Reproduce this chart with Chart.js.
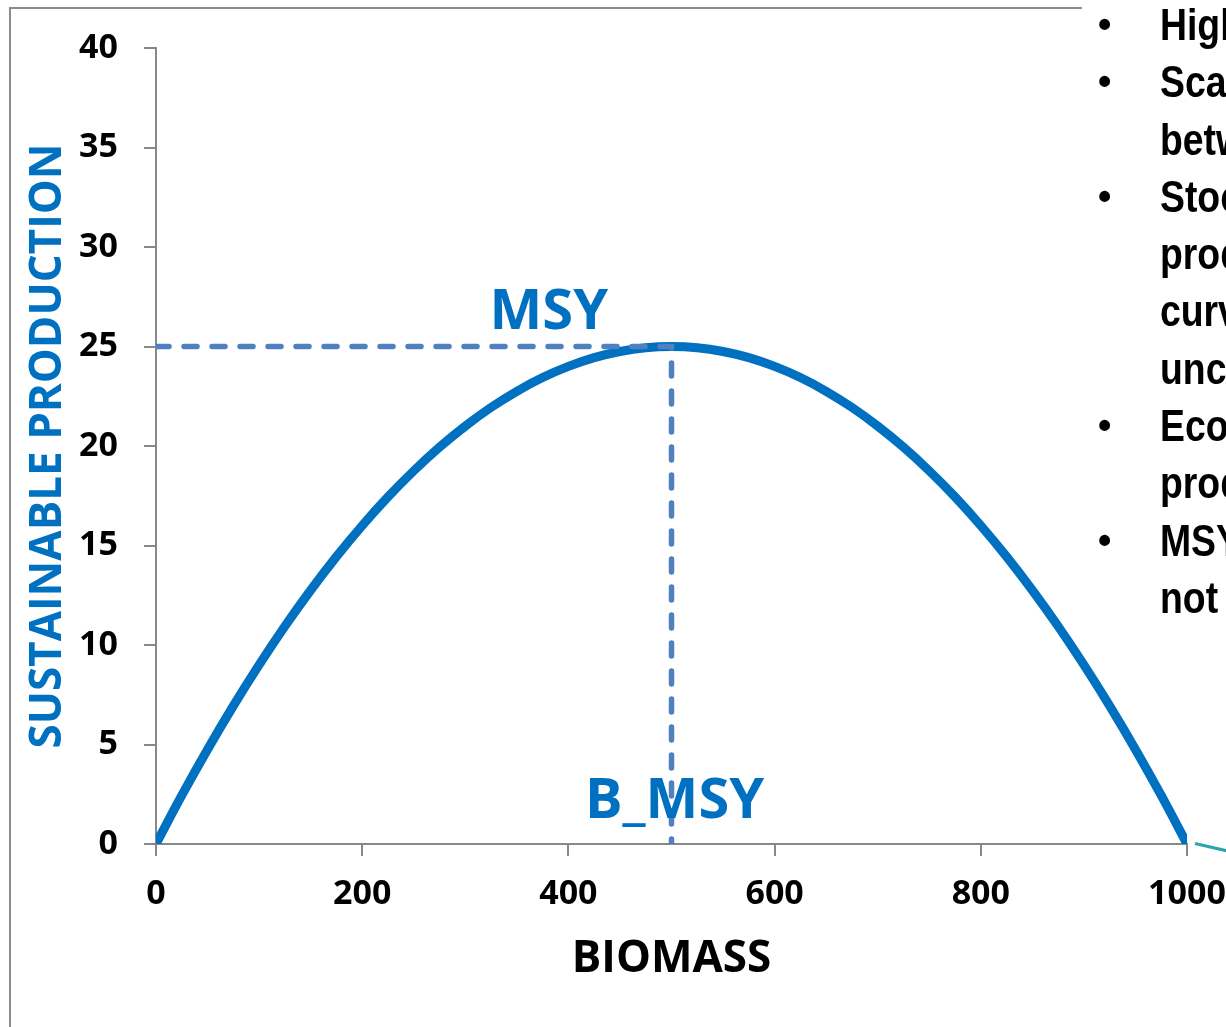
<!DOCTYPE html>
<html>
<head>
<meta charset="utf-8">
<script src="https://cdn.jsdelivr.net/npm/chart.js@4"></script>
<style>
  html, body { margin: 0; padding: 0; background: #fff; }
  body { width: 1226px; height: 1027px; position: relative; overflow: hidden; }
  #chart { position: absolute; left: 0; top: 0; }
  #frame {
    position: absolute; left: 9px; top: 7px; width: 1071px; height: 1100px;
    border-top: 2px solid #8c8c8c; border-left: 2px solid #8c8c8c;
    pointer-events: none;
  }
  #notes {
    position: absolute; left: 1090px; top: -4px; width: 600px;
    font-family: "Liberation Sans", Arial, sans-serif; font-weight: bold;
    font-size: 45px; line-height: 57.3px; color: #000; white-space: nowrap;
  }
  #notes div { position: relative; height: 57.3px; }
  #notes span.b { position: absolute; left: 8px; font-size: 38px; top: 0; }
  #notes span.t { position: absolute; left: 70px; transform: scaleX(0.83); transform-origin: 0 50%; }
  #connector {
    position: absolute; left: 1195px; top: 842px; width: 45px; height: 3px;
    background: #2aa5ad; transform: rotate(13deg); transform-origin: 0 50%;
  }
</style>
</head>
<body>
<canvas id="chart" width="1226" height="1027"></canvas>
<div id="frame"></div>
<div id="notes"></div>
<div id="connector"></div>
<script>
const biomass = [0, 25, 50, 75, 100, 125, 150, 175, 200, 225, 250, 275, 300, 325, 350, 375,
                 400, 425, 450, 475, 500, 525, 550, 575, 600, 625, 650, 675, 700, 725,
                 750, 775, 800, 825, 850, 875, 900, 925, 950, 975, 1000];
const production = [0, 2.44, 4.75, 6.94, 9.0, 10.94, 12.75, 14.44, 16.0, 17.44, 18.75, 19.94,
                    21.0, 21.94, 22.75, 23.44, 24.0, 24.44, 24.75, 24.94, 25.0, 24.94, 24.75,
                    24.44, 24.0, 23.44, 22.75, 21.94, 21.0, 19.94, 18.75, 17.44, 16.0, 14.44,
                    12.75, 10.94, 9.0, 6.94, 4.75, 2.44, 0];
const msy = 25;
const bMsy = 500;
const yTicks = [0, 5, 10, 15, 20, 25, 30, 35, 40];
const xTicks = [0, 200, 400, 600, 800, 1000];
const noteLines = ["Highly variable", "Scale matters", "between stocks", "Stock",
  "production", "curves are", "uncertain", "Economic", "production", "MSY", "not"];
const noteBullets = [true, true, false, true, false, false, false, true, false, true, false];

// side text of the slide
const notes = document.getElementById("notes");
noteLines.forEach((t, i) => {
  const d = document.createElement("div");
  if (noteBullets[i]) {
    const b = document.createElement("span");
    b.className = "b";
    b.textContent = "•";
    d.appendChild(b);
  }
  const s = document.createElement("span");
  s.className = "t";
  s.textContent = t;
  d.appendChild(s);
  notes.appendChild(d);
});

const blue = "#0070c0";
const axisGrey = "#888888";

const curveLabels = {
  id: "curveLabels",
  afterDatasetsDraw(chart) {
    const { ctx, scales } = chart;
    ctx.save();
    ctx.fillStyle = blue;
    ctx.font = "bold 56px 'Open Sans'";
    ctx.textAlign = "center";
    ctx.textBaseline = "middle";
    ctx.fillText("MSY", scales.x.getPixelForValue(381), scales.y.getPixelForValue(26.7));
    ctx.fillText("B_MSY", scales.x.getPixelForValue(503), scales.y.getPixelForValue(2.1));
    ctx.restore();
  },
};

new Chart(document.getElementById("chart").getContext("2d"), {
  type: "line",
  data: {
    datasets: [
      {
        label: "MSY guide",
        data: [{ x: 0, y: msy }, { x: bMsy, y: msy }, { x: bMsy, y: 0 }],
        borderColor: "#4f80bf",
        borderWidth: 5.5,
        borderDash: [13, 15],
        borderCapStyle: "round",
        pointRadius: 0,
        tension: 0,
        order: 0,
      },
      {
        label: "Sustainable production",
        data: biomass.map((b, i) => ({ x: b, y: production[i] })),
        borderColor: blue,
        borderWidth: 9,
        pointRadius: 0,
        tension: 0.4,
        order: 1,
      },
    ],
  },
  options: {
    responsive: false,
    animation: false,
    devicePixelRatio: 1,
    layout: { padding: { left: 10, right: 39, top: 48, bottom: 37 } },
    plugins: { legend: { display: false }, tooltip: { enabled: false } },
    scales: {
      x: {
        type: "linear",
        min: 0,
        max: 1000,
        afterFit: (s) => {
          s.height = 146;
          s.paddingLeft = 0;
          s.paddingRight = 0;
        },
        afterBuildTicks: (s) => { s.ticks = xTicks.map((v) => ({ value: v })); },
        ticks: {
          color: "#000",
          font: { family: "'Open Sans'", size: 34, weight: "bold" },
          padding: 18,
          maxRotation: 0,
          callback: (v) => String(v),
        },
        grid: { drawOnChartArea: false, color: axisGrey, lineWidth: 2, tickLength: 12 },
        border: { color: axisGrey, width: 2 },
        title: {
          display: true,
          text: "BIOMASS",
          color: "#000",
          font: { family: "'Open Sans'", size: 44, weight: "bold" },
          padding: { top: 0, bottom: 4 },
        },
      },
      y: {
        type: "linear",
        min: 0,
        max: 40,
        afterFit: (s) => { s.width = 146; },
        afterBuildTicks: (s) => { s.ticks = yTicks.map((v) => ({ value: v })); },
        ticks: {
          color: "#000",
          font: { family: "'Open Sans'", size: 34, weight: "bold" },
          padding: 26,
          callback: (v) => String(v),
        },
        grid: { drawOnChartArea: false, color: axisGrey, lineWidth: 2, tickLength: 12 },
        border: { color: axisGrey, width: 2 },
        title: {
          display: true,
          text: "SUSTAINABLE PRODUCTION",
          color: blue,
          font: { family: "'Open Sans'", size: 44, weight: "bold" },
          padding: { top: 12, bottom: 0 },
        },
      },
    },
  },
  plugins: [curveLabels],
});
</script>
</body>
</html>
